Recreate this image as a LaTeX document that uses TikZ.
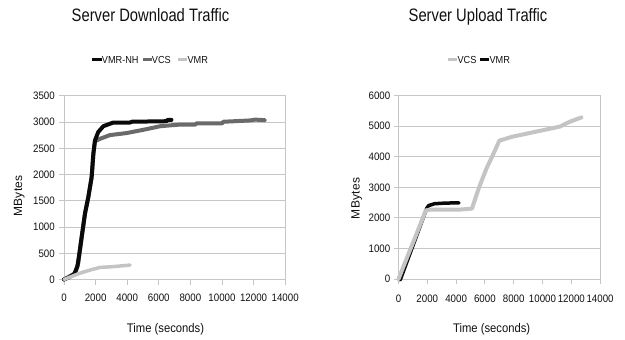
\documentclass[tikz,border=0pt]{standalone}
\usepackage{fontspec}
\setmainfont{Liberation Sans}
\newfontfamily\narrowfont[FakeStretch=0.9]{Liberation Sans}
\newfontfamily\titlefont[FakeStretch=0.82]{Liberation Sans}
\newfontfamily\spacedfont[LetterSpace=3]{Liberation Sans}

\definecolor{txt}{HTML}{111111}
\definecolor{gridc}{HTML}{C6C6C6}
\definecolor{serdark}{HTML}{0A0A0A}
\definecolor{sermid}{HTML}{6A6A6A}
\definecolor{serlight}{HTML}{C4C4C4}

\tikzset{
  charttitle/.style={font=\titlefont\fontsize{18}{20}\selectfont, text=txt, inner sep=0pt, anchor=base},
  ticklab/.style={font=\narrowfont\fontsize{10.8}{12}\selectfont, text=txt, inner sep=0pt},
  legendlab/.style={font=\narrowfont\fontsize{10.2}{12}\selectfont, text=txt, inner sep=0pt, anchor=base west},
  axislab/.style={font=\narrowfont\fontsize{12.5}{14}\selectfont, text=txt, inner sep=0pt, anchor=base},
  ylab/.style={font=\spacedfont\fontsize{12}{14}\selectfont, text=txt, inner sep=0pt, anchor=base, rotate=90},
  gridline/.style={draw=gridc, line width=1pt},
  series/.style={line width=#1, line join=round, line cap=round},
  legkey/.style={line width=#1},
}

\begin{document}
\begin{tikzpicture}[x=1pt, y=-1pt]
  % canvas
  \fill[white] (0,0) rectangle (625,340);
  \useasboundingbox (0,0) rectangle (625,340);

  % ---------------- download chart ----------------
  \node[charttitle] (titleL) at (150.5,21) {Server Download Traffic};

  \draw[serdark, legkey=3pt] (91.7,59.5) -- (101.5,59.5);
  \node[legendlab] (legLa) at (101.7,63.1) {VMR-NH};
  \draw[sermid, legkey=2.5pt] (143.3,59.5) -- (151.5,59.5);
  \node[legendlab] (legLb) at (151.7,63.1) {VCS};
  \draw[serlight, legkey=2.5pt] (178.3,59.5) -- (187.1,59.5);
  \node[legendlab] (legLc) at (187.3,63.1) {VMR};

  \node[ylab] (ylabL) at (22.2,196) {MBytes};
  \node[axislab] (xlabL) at (165.5,332.5) {Time (seconds)};

  \begin{scope}[shift={(64pt,-279.5pt)}, x=15.8pt, y=5.25pt]
    % grid, frame and ticks
    \foreach \v in {5,10,...,35} \draw[gridline] (0,\v) -- (14,\v);
    \draw[gridline] (0,0) rectangle (14,35);
    \foreach \v in {0,5,...,35} {
      \draw[gridline] (0,\v) -- ++(-5pt,0);
      \node[ticklab, anchor=base east] (yl\v) at ([xshift=-9pt, yshift=-3.9pt]0,\v) {\pgfmathparse{int(\v*100)}\pgfmathresult};
    }
    \foreach \t in {0,2,...,14} {
      \draw[gridline] (\t,0) -- ++(0,-5pt);
      \node[ticklab, anchor=base] (xl\t) at ([yshift=-21.7pt]\t,0) {\pgfmathparse{int(\t*1000)}\pgfmathresult};
    }
    % VCS
    \draw[sermid, series=4pt] plot coordinates {
      (0,0) (0.3,0.5) (0.7,1.2) (0.9,3.1) (1.12,8.1) (1.33,12.6) (1.54,15.7)
      (1.75,19.5) (1.86,24) (1.96,26.3) (2.28,26.8) (2.9,27.5) (3.97,27.9)
      (5.0,28.5) (6.1,29.2) (7.3,29.5) (8.3,29.5) (8.4,29.75) (10.0,29.75)
      (10.1,30.05) (11.8,30.3) (12.1,30.45) (12.7,30.35)};
    % VMR-NH
    \draw[serdark, series=4pt] plot coordinates {
      (0,0) (0.3,0.4) (0.65,1.0) (0.85,2.5) (0.95,4.5) (1.12,8.1) (1.33,12.6)
      (1.54,15.7) (1.75,19.5) (1.86,24) (1.96,26.5) (2.17,28.1) (2.49,29.2)
      (3.12,29.9) (4.18,29.9) (4.3,30.05) (6.5,30.15) (6.55,30.4) (6.8,30.4)};
    % VMR
    \draw[serlight, series=3.5pt] plot coordinates {
      (0,0) (1.0,1.2) (1.65,1.8) (2.28,2.3) (3.12,2.45) (4.18,2.75)};
  \end{scope}

  % ---------------- upload chart ----------------
  \node[charttitle] (titleR) at (478,21) {Server Upload Traffic};

  \draw[serlight, legkey=2.5pt] (448.3,59.5) -- (457.1,59.5);
  \node[legendlab] (legRa) at (457.3,63.1) {VCS};
  \draw[serdark, legkey=3pt] (480,59.5) -- (489.1,59.5);
  \node[legendlab] (legRb) at (489.3,63.1) {VMR};

  \node[ylab] (ylabR) at (359.6,198.3) {MBytes};
  \node[axislab] (xlabR) at (491.7,332.5) {Time (seconds)};

  \begin{scope}[shift={(398.5pt,-279pt)}, x=14.4pt, y=3.06pt]
    \foreach \v in {10,20,...,60} \draw[gridline] (0,\v) -- (14,\v);
    \draw[gridline] (0,0) rectangle (14,60);
    \foreach \v in {0,10,...,60} {
      \draw[gridline] (0,\v) -- ++(-5pt,0);
      \node[ticklab, anchor=base east] (yr\v) at ([xshift=-8pt, yshift=-3.9pt]0,\v) {\pgfmathparse{int(\v*100)}\pgfmathresult};
    }
    \foreach \t in {0,2,...,14} {
      \draw[gridline] (\t,0) -- ++(0,-5pt);
      \node[ticklab, anchor=base] (xr\t) at ([yshift=-23.2pt]\t,0) {\pgfmathparse{int(\t*1000)}\pgfmathresult};
    }
    % VMR
    \draw[serdark, series=3.5pt] plot coordinates {
      (0.12,-0.3) (1.97,23.2) (2.1,24.0) (2.5,24.6) (3.2,24.8) (4.2,24.9)};
    % VCS
    \draw[serlight, series=4pt] plot coordinates {
      (0,0) (1.9,22.4) (2.2,22.7) (4.3,22.7) (5.1,23.0) (5.6,30) (6.1,36)
      (6.7,42) (7.0,45.2) (7.9,46.5) (9.8,48.4) (11.2,49.8) (11.9,51.4) (12.7,52.8)};
  \end{scope}
\end{tikzpicture}
\end{document}
